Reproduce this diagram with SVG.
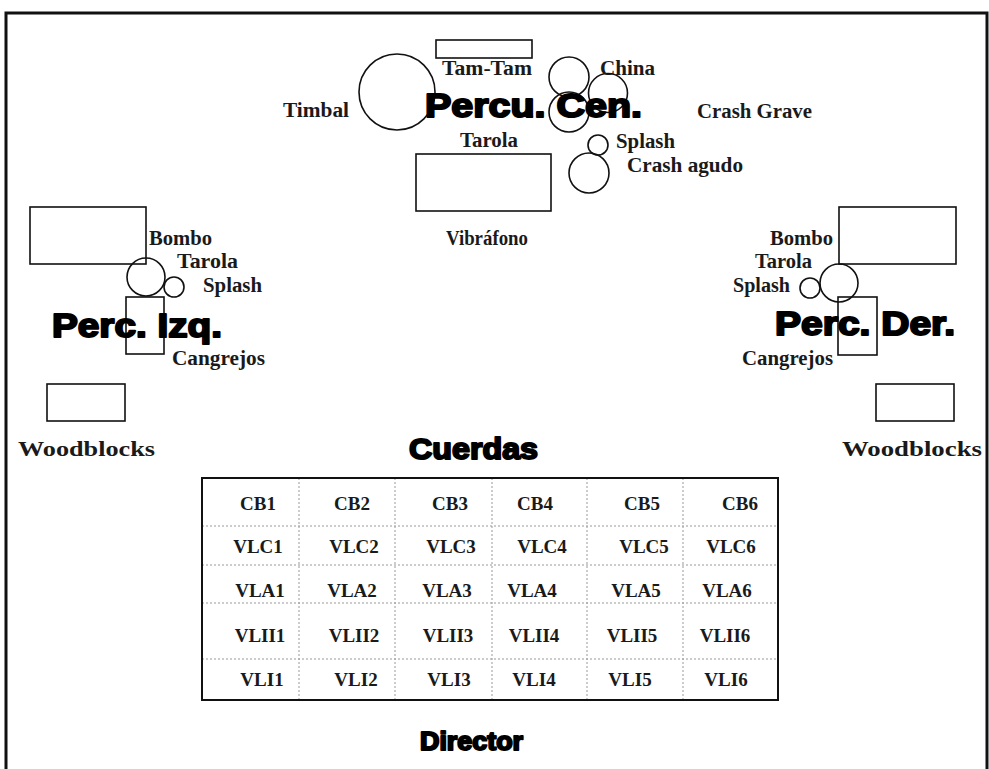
<svg xmlns="http://www.w3.org/2000/svg" width="989" height="769" viewBox="0 0 989 769">
<style>
.s{fill:none;stroke:#111;stroke-width:1.6}
.l{font-family:"Liberation Serif","Times New Roman",serif;font-weight:bold;font-size:20.5px;fill:#1a1a1a}
.t{font-family:"Liberation Serif","Times New Roman",serif;font-weight:bold;font-size:19px;fill:#1a1a1a;text-anchor:middle}
.h{font-family:"Liberation Sans",Arial,sans-serif;font-weight:bold;fill:#000;stroke:#000;stroke-width:2;stroke-linejoin:round}
.g{stroke:#999;stroke-width:1;stroke-dasharray:2 2;fill:none}
</style>
<rect width="989" height="769" fill="#fff"/>
<path d="M6,769 V13 H987 V769" fill="none" stroke="#111" stroke-width="3"/>

<g id="central">
<rect id="tamtam" class="s" x="436" y="40" width="96" height="18"/>
<circle id="timbal" class="s" cx="397" cy="92" r="38"/>
<circle class="s" cx="569" cy="77" r="20"/>
<circle class="s" cx="608" cy="93" r="19.5"/>
<circle class="s" cx="569" cy="112" r="20"/>
<circle class="s" cx="598" cy="145" r="10"/>
<circle class="s" cx="589" cy="173" r="20"/>
<rect id="vibrafono" class="s" x="416" y="154" width="135" height="57"/>
<text class="l" x="442" y="75" textLength="90" lengthAdjust="spacingAndGlyphs">Tam-Tam</text>
<text class="l" x="283" y="117" textLength="66" lengthAdjust="spacingAndGlyphs">Timbal</text>
<text class="l" x="460" y="147" textLength="58" lengthAdjust="spacingAndGlyphs">Tarola</text>
<text class="l" x="600" y="75" textLength="55" lengthAdjust="spacingAndGlyphs">China</text>
<text class="l" x="697" y="118" textLength="115" lengthAdjust="spacingAndGlyphs">Crash Grave</text>
<text class="l" x="616" y="148" textLength="59" lengthAdjust="spacingAndGlyphs">Splash</text>
<text class="l" x="627" y="172" textLength="116" lengthAdjust="spacingAndGlyphs">Crash agudo</text>
<text class="l" x="446" y="245" textLength="82" lengthAdjust="spacingAndGlyphs">Vibráfono</text>
<text class="h" x="425" y="117" font-size="33" textLength="217" lengthAdjust="spacingAndGlyphs">Percu. Cen.</text>
</g>

<g id="izquierda">
<rect class="s" x="30" y="207" width="116" height="57"/>
<circle class="s" cx="146" cy="277" r="19"/>
<circle class="s" cx="174" cy="287" r="10"/>
<rect class="s" x="126" y="297" width="38" height="57"/>
<rect class="s" x="47" y="384" width="78" height="37"/>
<text class="l" x="149" y="245" textLength="63" lengthAdjust="spacingAndGlyphs">Bombo</text>
<text class="l" x="177" y="268" textLength="61" lengthAdjust="spacingAndGlyphs">Tarola</text>
<text class="l" x="203" y="292" textLength="59" lengthAdjust="spacingAndGlyphs">Splash</text>
<text class="l" x="172" y="365" textLength="93" lengthAdjust="spacingAndGlyphs">Cangrejos</text>
<text class="l" x="18" y="456" textLength="137" lengthAdjust="spacingAndGlyphs">Woodblocks</text>
<text class="h" x="52" y="337" font-size="33" textLength="170" lengthAdjust="spacingAndGlyphs">Perc. Izq.</text>
</g>

<g id="derecha">
<rect class="s" x="839" y="207" width="117" height="57"/>
<circle class="s" cx="839" cy="283" r="19"/>
<circle class="s" cx="810" cy="288" r="10"/>
<rect class="s" x="838" y="297" width="39" height="58"/>
<rect class="s" x="876" y="384" width="78" height="37"/>
<text class="l" x="770" y="245" textLength="63" lengthAdjust="spacingAndGlyphs">Bombo</text>
<text class="l" x="755" y="268" textLength="57" lengthAdjust="spacingAndGlyphs">Tarola</text>
<text class="l" x="733" y="292" textLength="57" lengthAdjust="spacingAndGlyphs">Splash</text>
<text class="l" x="742" y="365" textLength="91" lengthAdjust="spacingAndGlyphs">Cangrejos</text>
<text class="l" x="842" y="456" textLength="140" lengthAdjust="spacingAndGlyphs">Woodblocks</text>
<text class="h" x="775" y="335" font-size="33" textLength="180" lengthAdjust="spacingAndGlyphs">Perc. Der.</text>
</g>

<g id="cuerdas">
<text class="h" x="409" y="459" font-size="30" textLength="129" lengthAdjust="spacingAndGlyphs">Cuerdas</text>
<g id="grid">
<path class="g" d="M299,478 V700 M395,478 V700 M492,478 V700 M587,478 V700 M683,478 V700 M202,526 H778 M202,565 H778 M202,603 H778 M202,659 H778"/>
<rect x="202" y="478" width="576" height="222" fill="none" stroke="#111" stroke-width="2"/>
</g>
<text class="t" x="258" y="510">CB1</text>
<text class="t" x="352" y="510">CB2</text>
<text class="t" x="450" y="510">CB3</text>
<text class="t" x="535" y="510">CB4</text>
<text class="t" x="642" y="510">CB5</text>
<text class="t" x="740" y="510">CB6</text>
<text class="t" x="258" y="553">VLC1</text>
<text class="t" x="354" y="553">VLC2</text>
<text class="t" x="451" y="553">VLC3</text>
<text class="t" x="542" y="553">VLC4</text>
<text class="t" x="644" y="553">VLC5</text>
<text class="t" x="731" y="553">VLC6</text>
<text class="t" x="260" y="597">VLA1</text>
<text class="t" x="352" y="597">VLA2</text>
<text class="t" x="447" y="597">VLA3</text>
<text class="t" x="532" y="597">VLA4</text>
<text class="t" x="636" y="597">VLA5</text>
<text class="t" x="727" y="597">VLA6</text>
<text class="t" x="260" y="642">VLII1</text>
<text class="t" x="354" y="642">VLII2</text>
<text class="t" x="448" y="642">VLII3</text>
<text class="t" x="534" y="642">VLII4</text>
<text class="t" x="632" y="642">VLII5</text>
<text class="t" x="725" y="642">VLII6</text>
<text class="t" x="262" y="686">VLI1</text>
<text class="t" x="356" y="686">VLI2</text>
<text class="t" x="449" y="686">VLI3</text>
<text class="t" x="534" y="686">VLI4</text>
<text class="t" x="630" y="686">VLI5</text>
<text class="t" x="726" y="686">VLI6</text>
</g>

<g id="director">
<text class="h" x="420" y="750" font-size="25" stroke-width="0.6" textLength="103" lengthAdjust="spacingAndGlyphs">Director</text>
</g>
</svg>
